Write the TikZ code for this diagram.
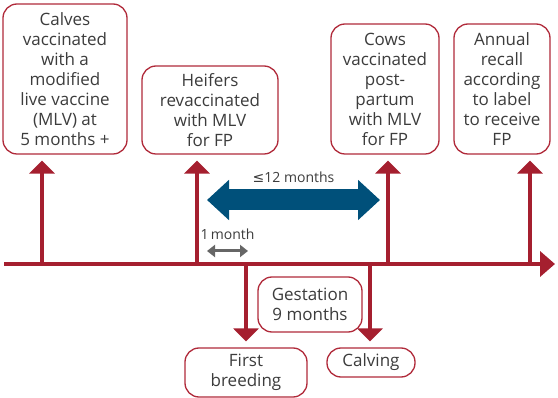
\documentclass[tikz,border=0pt]{standalone}
\usepackage{fontspec}
\setmainfont{Open Sans}
\newfontfamily\symfont{DejaVu Sans}
\usetikzlibrary{arrows.meta}
\definecolor{tlred}{HTML}{A51F2F}
\definecolor{boxred}{HTML}{B02A3A}
\definecolor{spanblue}{HTML}{00507A}
\definecolor{txtgray}{HTML}{3C3C3C}
\definecolor{arrgray}{HTML}{666666}
\tikzset{
	block/.style = {draw=boxred, fill=white, rectangle, line width=1.3pt, rounded corners=14pt, inner sep=0pt, align=center, text=txtgray, font=\fontsize{17}{20}\selectfont},
	%,
	tmp/.style  = {coordinate},
	tick/.style = {draw=tlred, line width=4pt, -{Triangle[width=25pt,length=13pt]}},
	timeline/.style = {draw=tlred, line width=4pt, -{Triangle[width=25pt,length=15pt]}},
	span/.style = {draw=spanblue, line width=21pt, {Triangle[width=39pt,length=22pt]}-{Triangle[width=39pt,length=22pt]}},
	gap/.style = {draw=arrgray, line width=3pt, {Triangle[width=12pt,length=8pt]}-{Triangle[width=12pt,length=8pt]}},
	lbl/.style = {text=txtgray, font=\fontsize{14}{17}\selectfont, inner sep=0pt}
}

\begin{document}
\begin{tikzpicture}[auto, x=1pt, y=-1pt]
    \useasboundingbox (0,0) rectangle (558,398);
    % We start by placing the boxes
    \node [block, minimum width=124pt, minimum height=150pt] (calves) at (65,79)
        {Calves\\vaccinated\\with a\\modified\\live vaccine\\(MLV) at\\5 months +};
    \node [block, minimum width=136pt, minimum height=88pt] (heifers) at (210,110)
        {Heifers\\revaccinated\\with MLV\\for FP};
    \node [block, minimum width=108pt, minimum height=130pt] (cows) at (385,89)
        {Cows\\vaccinated\\post-\\partum\\with MLV\\for FP};
    \node [block, minimum width=96pt, minimum height=130pt] (annual) at (502,89)
        {Annual\\recall\\according\\to label\\to receive\\FP};
    \node [block, minimum width=104pt, minimum height=55pt] (gestation) at (310,304.5)
        {Gestation\\9 months};
    \node [block, minimum width=122pt, minimum height=49pt] (breeding) at (246,372.5)
        {First\\breeding};
    \node [block, minimum width=88pt, minimum height=29pt] (calving) at (371,362.5)
        {Calving};

    % Points on the time line
    \node [tmp] (start) at (4,264) {};
    \node [tmp] (end) at (555,264) {};
    \node [tmp] (t1) at (42,264) {};
    \node [tmp] (t2) at (197,264) {};
    \node [tmp] (t3) at (246,264) {};
    \node [tmp] (t4) at (370,264) {};
    \node [tmp] (t5) at (388,264) {};
    \node [tmp] (t6) at (530,264) {};

    % Ends of the two spans
    \node [tmp] (span1) at (207,200) {};
    \node [tmp] (span2) at (380,200) {};
    \node [tmp] (gap1) at (207,251) {};
    \node [tmp] (gap2) at (248,251) {};

    % Once the points are placed, the arrows follow.
    \draw [timeline] (start) -- (end);
    \draw [tick, shorten >=6pt] (t1) -- (t1 |- calves.south);
    \draw [tick, shorten >=6pt] (t2) -- (t2 |- heifers.south);
    \draw [tick, shorten >=6pt] (t5) -- (t5 |- cows.south);
    \draw [tick, shorten >=6pt] (t6) -- (t6 |- annual.south);
    \draw [tick, shorten >=6pt] (t3) -- (t3 |- breeding.north);
    \draw [tick, shorten >=6pt] (t4) -- (t4 |- calving.north);
    \draw [span] (span1) -- node [lbl, above=7pt] {{\symfont ≤}12 months} (span2);
    \draw [gap] (gap1) -- node [lbl, above=10pt] {1\,month} (gap2);
\end{tikzpicture}
\end{document}
